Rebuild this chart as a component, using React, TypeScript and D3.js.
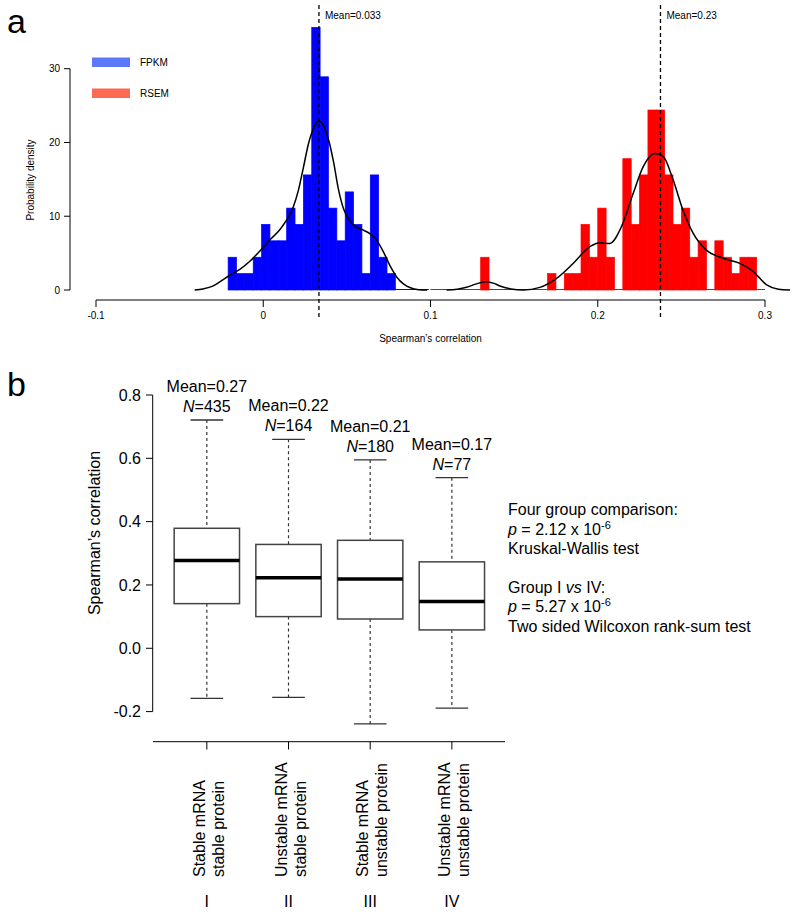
import React from 'react';
import * as d3 from 'd3';

const FONT = '"Liberation Sans", Arial, Helvetica, sans-serif';

// ---- panel a: histograms of Spearman's correlation ----
const binWidth = 0.005;
const fpkmStart = -0.021;
const fpkmDensity = [4.44, 2.22, 2.22, 4.44, 8.89, 6.67, 6.67, 11.1, 8.89, 15.6, 35.6, 28.9,
  11.1, 6.67, 13.3, 8.89, 2.22, 15.6, 4.44, 2.22, 0, 0, 0, 0];
const rsemStart = 0.1;
const rsemDensity = [0, 0, 0, 0, 0, 0, 4.44, 0, 0, 0, 0, 0, 0, 0, 2.22, 0, 2.22, 2.22, 8.89, 4.44,
  11.1, 4.44, 0, 17.8, 8.89, 15.6, 24.4, 24.4, 15.6, 8.89, 11.1, 4.44, 6.67, 0, 6.67, 4.44, 2.22,
  4.44, 4.44, 0];

// density curves [x, density]
const fpkmCurve: [number, number][] = [
  [-0.041, 0], [-0.036, 0.15], [-0.031, 0.45], [-0.026, 1.1], [-0.02, 2.0], [-0.014, 2.8],
  [-0.008, 3.9], [-0.002, 5.3], [0.004, 6.8], [0.01, 8.2], [0.014, 9.5], [0.018, 11.3],
  [0.021, 13.5], [0.024, 16.6], [0.027, 19.8], [0.030, 21.9], [0.033, 22.9], [0.036, 22.3],
  [0.039, 20.4], [0.042, 17.4], [0.045, 13.6], [0.048, 11.0], [0.052, 9.3], [0.056, 8.5],
  [0.060, 8.1], [0.064, 7.6], [0.068, 6.7], [0.072, 5.1], [0.076, 3.2], [0.080, 1.7],
  [0.084, 0.8], [0.088, 0.3], [0.093, 0.05], [0.098, 0],
];
const rsemCurve: [number, number][] = [
  [0.1096, 0], [0.116, 0.1], [0.1216, 0.36], [0.127, 0.8], [0.133, 1.13], [0.138, 0.9],
  [0.1415, 0.54], [0.148, 0.15], [0.1555, 0], [0.1654, 0.36], [0.1754, 1.58], [0.1853, 3.6],
  [0.1953, 5.87], [0.2013, 6.4], [0.2072, 6.3], [0.2142, 8.6], [0.2212, 13.1], [0.2271, 16.7],
  [0.2341, 18.5], [0.2391, 18.1], [0.2451, 14.9], [0.251, 10.8], [0.257, 7.7], [0.265, 5.4],
  [0.275, 4.3], [0.285, 3.6], [0.293, 2.5], [0.301, 0.68], [0.308, 0.1], [0.315, 0],
];

const meanValues = [0.0333, 0.2375];
const meanLabels = ['Mean=0.033', 'Mean=0.23'];
const legendLabels = ['FPKM', 'RSEM'];
const legendColors = ['#5a78f8', '#fc6a54'];
const histXTicks = [-0.1, 0, 0.1, 0.2, 0.3];
const histYTicks = [0, 10, 20, 30];

// ---- panel b: box plots ----
const groups = ['I', 'II', 'III', 'IV'];
const groupLine1 = ['Stable mRNA', 'Unstable mRNA', 'Stable mRNA', 'Unstable mRNA'];
const groupLine2 = ['stable protein', 'stable protein', 'unstable protein', 'unstable protein'];
const whiskerLow = [-0.158, -0.155, -0.239, -0.189];
const q1 = [0.141, 0.1, 0.0925, 0.058];
const medians = [0.277, 0.223, 0.219, 0.148];
const q3 = [0.379, 0.328, 0.341, 0.273];
const whiskerHigh = [0.721, 0.66, 0.595, 0.539];
const groupMeans = ['0.27', '0.22', '0.21', '0.17'];
const groupN = [435, 164, 180, 77];
const boxYTicks = [-0.2, 0, 0.2, 0.4, 0.6, 0.8];

const App = () => {
  const xa = d3.scaleLinear().domain([-0.1, 0.3]).range([96, 765]);
  const ya = d3.scaleLinear().domain([0, 30]).range([290, 68.7]);
  const xb = d3.scaleBand().domain(groups).range([166, 492.7]).padding(0);
  const yb = d3.scaleLinear().domain([-0.2, 0.8]).range([711.6, 395]);

  const curve = d3.line<[number, number]>()
    .x(d => xa(d[0]))
    .y(d => ya(d[1]))
    .curve(d3.curveMonotoneX);

  const bw = xa(binWidth) - xa(0);
  const hists = [
    { start: fpkmStart, dens: fpkmDensity, color: '#0000ff' },
    { start: rsemStart, dens: rsemDensity, color: '#ff0000' },
  ];

  const boxW = xb.bandwidth() * 0.8;
  const capW = boxW / 2;
  const cx = (g: string) => (xb(g) as number) + xb.bandwidth() / 2;

  return (
    <svg width={800} height={916} style={{ position: 'absolute', left: 0, top: 0, background: '#fff' }}
      fontFamily={FONT}>
      {/* ---------- panel a ---------- */}
      <text x={7} y={33} fontSize={34}>a</text>

      {hists.map((h, hi) => (
        <g key={hi}>
          {h.dens.map((d, i) => d > 0 && (
            <rect key={i} x={xa(h.start + i * binWidth)} y={ya(d)} width={bw}
              height={ya(0) - ya(d)} fill={h.color} stroke={h.color} strokeWidth={0.7} />
          ))}
          <line x1={xa(h.start)} x2={xa(h.start + h.dens.length * binWidth)} y1={ya(0) - 0.5} y2={ya(0) - 0.5}
            stroke={h.color} strokeWidth={1} />
        </g>
      ))}

      <path d={curve(fpkmCurve) as string} fill="none" stroke="#000" strokeWidth={1.5} />
      <path d={curve(rsemCurve) as string} fill="none" stroke="#000" strokeWidth={1.5} />

      {meanValues.map((m, i) => (
        <g key={i}>
          <line x1={xa(m)} x2={xa(m)} y1={5} y2={318} stroke="#000" strokeWidth={1.3} strokeDasharray="4,3" />
          <text x={xa(m) + 6} y={19} fontSize={10}>{meanLabels[i]}</text>
        </g>
      ))}

      {legendLabels.map((l, i) => (
        <g key={l}>
          <rect x={92} y={57.5 + i * 31} width={38} height={9.5} fill={legendColors[i]} />
          <text x={140} y={65.5 + i * 31} fontSize={10}>{l}</text>
        </g>
      ))}

      {/* y axis */}
      <line x1={70} x2={70} y1={ya(0)} y2={ya(30)} stroke="#000" strokeWidth={1} />
      {histYTicks.map(t => (
        <g key={t}>
          <line x1={64} x2={70} y1={ya(t)} y2={ya(t)} stroke="#000" />
          <text x={60} y={ya(t)} dy="0.35em" textAnchor="end" fontSize={10}>{t}</text>
        </g>
      ))}
      <text transform="translate(34,180) rotate(-90)" textAnchor="middle" fontSize={10}>Probability density</text>

      {/* x axis */}
      <line x1={xa(-0.1)} x2={xa(0.3)} y1={300} y2={300} stroke="#000" />
      {histXTicks.map(t => (
        <g key={t}>
          <line x1={xa(t)} x2={xa(t)} y1={300} y2={307} stroke="#000" />
          <text x={xa(t)} y={318.5} textAnchor="middle" fontSize={10}>{t}</text>
        </g>
      ))}
      <text x={xa(0.1)} y={342} textAnchor="middle" fontSize={10}>Spearman’s correlation</text>

      {/* ---------- panel b ---------- */}
      <text x={7} y={396} fontSize={34}>b</text>

      <line x1={152.7} x2={152.7} y1={yb(-0.2)} y2={yb(0.8)} stroke="#000" />
      {boxYTicks.map(t => (
        <g key={t}>
          <line x1={146} x2={152.7} y1={yb(t)} y2={yb(t)} stroke="#000" />
          <text x={141} y={yb(t)} dy="0.35em" textAnchor="end" fontSize={16}>{t.toFixed(1)}</text>
        </g>
      ))}
      <text transform="translate(100,533) rotate(-90)" textAnchor="middle" fontSize={16}>Spearman’s correlation</text>

      {groups.map((g, i) => {
        const x = cx(g);
        return (
          <g key={g}>
            <line x1={x} x2={x} y1={yb(whiskerHigh[i])} y2={yb(q3[i])} stroke="#333" strokeWidth={1.2} strokeDasharray="3,3" />
            <line x1={x} x2={x} y1={yb(q1[i])} y2={yb(whiskerLow[i])} stroke="#333" strokeWidth={1.2} strokeDasharray="3,3" />
            <line x1={x - capW / 2} x2={x + capW / 2} y1={yb(whiskerHigh[i])} y2={yb(whiskerHigh[i])} stroke="#333" strokeWidth={1.3} />
            <line x1={x - capW / 2} x2={x + capW / 2} y1={yb(whiskerLow[i])} y2={yb(whiskerLow[i])} stroke="#333" strokeWidth={1.3} />
            <rect x={x - boxW / 2} y={yb(q3[i])} width={boxW} height={yb(q1[i]) - yb(q3[i])}
              fill="#fff" stroke="#444" strokeWidth={1.5} />
            <line x1={x - boxW / 2} x2={x + boxW / 2} y1={yb(medians[i])} y2={yb(medians[i])} stroke="#000" strokeWidth={3.5} />
            <text x={x} y={yb(whiskerHigh[i]) - 28} textAnchor="middle" fontSize={16}>Mean={groupMeans[i]}</text>
            <text x={x} y={yb(whiskerHigh[i]) - 8} textAnchor="middle" fontSize={16}>
              <tspan fontStyle="italic">N</tspan>={groupN[i]}
            </text>
          </g>
        );
      })}

      {/* x axis b */}
      <line x1={153} x2={505} y1={741.7} y2={741.7} stroke="#000" />
      {groups.map((g, i) => {
        const x = cx(g);
        return (
          <g key={g}>
            <line x1={x} x2={x} y1={741.7} y2={749.5} stroke="#000" />
            <text transform={`translate(${x - 2},877) rotate(-90)`} fontSize={16}>{groupLine1[i]}</text>
            <text transform={`translate(${x + 17},877) rotate(-90)`} fontSize={16}>{groupLine2[i]}</text>
            <text x={x} y={907} textAnchor="middle" fontSize={16}>{g}</text>
          </g>
        );
      })}

      {/* test results */}
      <g fontSize={16}>
        <text x={508} y={515}>Four group comparison:</text>
        <text x={508} y={535}><tspan fontStyle="italic">p</tspan> = 2.12 x 10<tspan fontSize={11} dy={-6}>-6</tspan></text>
        <text x={508} y={554}>Kruskal-Wallis test</text>
        <text x={508} y={593}>Group I <tspan fontStyle="italic">vs</tspan> IV:</text>
        <text x={508} y={612}><tspan fontStyle="italic">p</tspan> = 5.27 x 10<tspan fontSize={11} dy={-6}>-6</tspan></text>
        <text x={508} y={632}>Two sided Wilcoxon rank-sum test</text>
      </g>
    </svg>
  );
};

export default App;
